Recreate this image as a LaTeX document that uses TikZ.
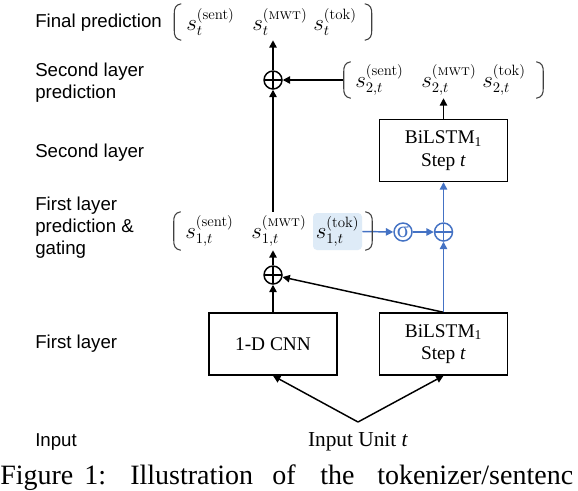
\documentclass[tikz,border=0pt]{standalone}
\usepackage{fontspec}
\usepackage{amsmath}
\newfontfamily\sansf{Liberation Sans}
\newfontfamily\serf{Liberation Serif}
\usetikzlibrary{arrows.meta,calc}
\definecolor{ublue}{RGB}{68,114,196}
\definecolor{hlblue}{RGB}{222,235,247}
\definecolor{brkgray}{RGB}{64,64,64}
\newcommand\drawbrk[1]{%
  \draw[brk] ($(#1.north west)+(7,0)$) .. controls ($(#1.north west)+(1,1)$) and ($(#1.north west)+(0,5)$) .. ($(#1.north west)+(0,10)$)
     -- ($(#1.south west)+(0,-10)$) .. controls ($(#1.south west)+(0,-5)$) and ($(#1.south west)+(1,-1)$) .. ($(#1.south west)+(7,0)$);
  \draw[brk] ($(#1.north east)+(-7,0)$) .. controls ($(#1.north east)+(-1,1)$) and ($(#1.north east)+(0,5)$) .. ($(#1.north east)+(0,10)$)
     -- ($(#1.south east)+(0,-10)$) .. controls ($(#1.south east)+(0,-5)$) and ($(#1.south east)+(-1,-1)$) .. ($(#1.south east)+(-7,0)$);
}
\begin{document}
\begin{tikzpicture}[x=0.75pt,y=-0.75pt,
  lbl/.style={font=\sansf\fontsize{14}{16.5}\selectfont, anchor=west, align=left, inner sep=0pt},
  boxn/.style={draw, line width=1.1pt, minimum width=96pt, minimum height=46.5pt, align=center, font=\serf\fontsize{14.5}{17}\selectfont, inner sep=0pt},
  rown/.style={inner sep=0pt, minimum height=27pt},
  term/.style={font=\fontsize{16}{18}\selectfont, inner sep=0pt, anchor=west},
  arr/.style={line width=1.1pt, -{Triangle[length=5.5pt,width=5.5pt]}},
  plusn/.style={circle, draw, line width=1.1pt, minimum size=13.5pt, inner sep=0pt,
    path picture={\draw[line width=0.8pt] (path picture bounding box.north) -- (path picture bounding box.south)
      (path picture bounding box.west) -- (path picture bounding box.east);}},
  brk/.style={draw=brkgray, line width=0.8pt},
  capn/.style={font=\serf\fontsize{21}{24}\selectfont, anchor=base west, inner sep=0pt}
]
\useasboundingbox (0,0) rectangle (578,490);
\fill[white] (0,0) rectangle (578,490);

% left labels
\node[lbl] (lf) at (35,23) {Final prediction};
\node[lbl] (ls) at (35,83) {Second layer\\prediction};
\node[lbl] (l2) at (35,153) {Second layer};
\node[lbl] (lg) at (35,228) {First layer\\prediction \&\\gating};
\node[lbl] (l1) at (35,344) {First layer};
\node[lbl] (li) at (35,442) {Input};

% rows
\node[rown, minimum width=147.75pt] (r0) at (273,22) {};
\node[rown, minimum width=148.5pt, minimum height=28.5pt] (r1) at (273,231) {};
\node[rown, minimum width=149.25pt] (r2) at (443.5,80) {};

\node[term] (s0a) at (186,22) {$s_t^{(\text{sent})}$};
\node[term] (s0b) at (252,22) {$s_t^{(\text{\textsc{mwt}})}$};
\node[term] (s0c) at (313,22) {$s_t^{(\text{tok})}$};

\node[term] (s1a) at (185,231) {$s_{1,t}^{(\text{sent})}$};
\node[term] (s1b) at (251,231) {$s_{1,t}^{(\text{\textsc{mwt}})}$};
\node[term, anchor=center, fill=hlblue, rounded corners=3pt, minimum width=36.75pt, minimum height=27.75pt] (tok1) at (337.5,231.5) {$s_{1,t}^{(\text{tok})}$};

\node[term] (s2a) at (355,80) {$s_{2,t}^{(\text{sent})}$};
\node[term] (s2b) at (421,80) {$s_{2,t}^{(\text{\textsc{mwt}})}$};
\node[term] (s2c) at (482,80) {$s_{2,t}^{(\text{tok})}$};

% circles
\node[plusn] (uplus) at (273,80) {};
\node[plusn] (lplus) at (273,275) {};
\node[plusn, draw=ublue, path picture={\draw[ublue, line width=0.8pt] (path picture bounding box.north) -- (path picture bounding box.south)
      (path picture bounding box.west) -- (path picture bounding box.east);}] (bplus) at (443.5,232) {};
\node[circle, draw=ublue, line width=1.1pt, minimum size=13.5pt, inner sep=0pt, text=ublue, font=\serf\fontsize{17}{17}\selectfont] (sig) at (403,232) {\raisebox{0.5pt}{σ}};

% boxes
\node[boxn] (cnn) at (273,344) {1-D CNN};
\node[boxn] (bil1) at (443.5,344) {BiLSTM\textsubscript{1}\\Step \textit{t}};
\node[boxn] (bil2) at (443.5,150.5) {BiLSTM\textsubscript{1}\\Step \textit{t}};

% input
\node[font=\serf\fontsize{16}{19}\selectfont, inner sep=0pt] (inp) at (358,442) {Input Unit \textit{t}};
\coordinate (apex) at (358,422);

% connectors
\draw[arr] (apex) -- (cnn.south);
\draw[arr] (apex) -- (bil1.south);
\draw[arr] (cnn.north) -- (lplus.south);
\draw[arr] (bil1.north) -- (lplus);
\draw[arr] (lplus.north) -- (r1.south);
\draw[arr] (r1.north) -- (uplus.south);
\draw[arr] (uplus.north) -- (r0.south);
\draw[arr] (r2.west) -- (uplus.east);
\draw[arr] (bil2.north) -- (r2.south);
\draw[arr, ublue] (tok1.east) -- (sig.west);
\draw[arr, ublue] (sig.east) -- (bplus.west);
\draw[arr, ublue] (bil1.north) -- (bplus.south);
\draw[arr, ublue] (bplus.north) -- (bil2.south);

% brackets
\drawbrk{r0}
\drawbrk{r1}
\drawbrk{r2}

% caption, as far as the reference shows it
\node[capn] (c1) at (0,484) {Figure};
\node[capn] (c2) at (84,484) {1:};
\node[capn] (c3) at (130,484) {Illustration};
\node[capn] (c4) at (272,484) {of};
\node[capn] (c5) at (320,484) {the};
\node[capn] (c6) at (377,484) {tokenizer/sentenc};
\end{tikzpicture}
\end{document}
